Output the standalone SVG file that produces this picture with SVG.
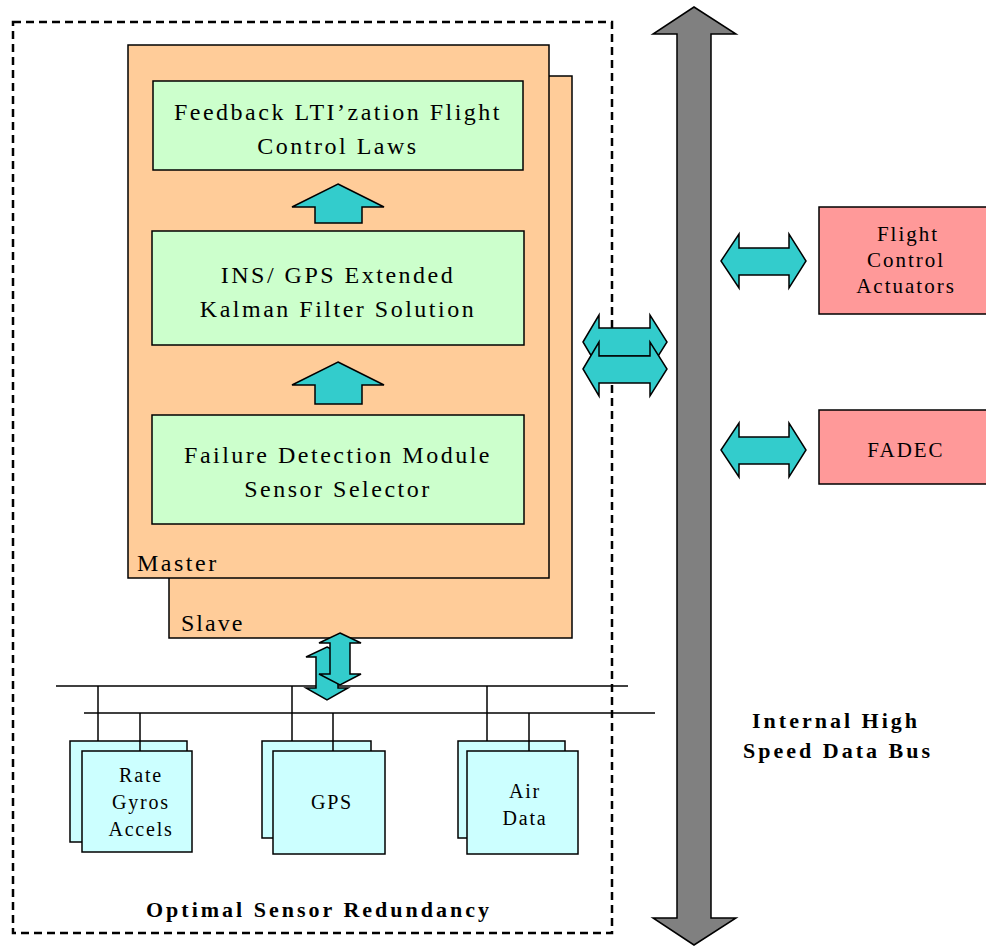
<svg xmlns="http://www.w3.org/2000/svg" width="986" height="948" viewBox="0 0 986 948">
<style>
.ser{font-family:"Liberation Serif","Times New Roman",serif;fill:#000}
.g{font-size:24px;letter-spacing:2.5px;text-anchor:middle}
.s{font-size:21px;letter-spacing:2px;text-anchor:middle}
.s2{font-size:20px;letter-spacing:1.8px;text-anchor:middle}
.b{font-size:22px;font-weight:bold;letter-spacing:3px;text-anchor:middle}
.box{stroke:#000;stroke-width:1.5}
.peach{fill:#FFCC99}
.green{fill:#CCFFCC}
.pink{fill:#FF9999}
.lc{fill:#CCFFFF}
.ar{fill:#33CCCC;stroke:#000;stroke-width:1.5;stroke-linejoin:miter}
.bus{stroke:#000;stroke-width:1.5}
</style>
<rect width="986" height="948" fill="#fff"/>
<g id="redundancy-boundary">
<rect x="13" y="22" width="599" height="911" fill="none" stroke="#000" stroke-width="2.5" stroke-dasharray="8,5"/>
</g>
<g id="slave">
<rect class="box peach" x="169" y="76" width="403" height="562"/>
<text class="ser" x="181" y="631" font-size="24" letter-spacing="2">Slave</text>
</g>
<g id="master">
<rect class="box peach" x="128" y="45" width="421" height="533"/>
<text class="ser" x="137" y="571" font-size="24" letter-spacing="2.5">Master</text>
</g>
<g id="control-laws">
<rect class="box green" x="153" y="81" width="370" height="89"/>
<text class="ser g" x="338" y="120">Feedback LTI’zation Flight</text>
<text class="ser g" x="338" y="154">Control Laws</text>
</g>
<g id="kalman">
<rect class="box green" x="152" y="231" width="372" height="114"/>
<text class="ser g" x="338" y="283">INS/ GPS Extended</text>
<text class="ser g" x="338" y="317">Kalman Filter Solution</text>
</g>
<g id="failure-detection">
<rect class="box green" x="152" y="415" width="372" height="109"/>
<text class="ser g" x="338" y="463">Failure Detection Module</text>
<text class="ser g" x="338" y="497">Sensor Selector</text>
</g>
<g id="data-bus">
<polygon points="694,7 736,34 711,34 711,918 736,918 694,945 653,918 677,918 677,34 653,34" fill="#808080" stroke="#000" stroke-width="1.5"/>
<text class="ser b" x="836" y="728">Internal High</text>
<text class="ser b" x="838" y="758">Speed Data Bus</text>
</g>
<g id="flight-control-actuators">
<rect class="box pink" x="819" y="207" width="180" height="107"/>
<text class="ser s" x="908" y="241">Flight</text>
<text class="ser s" x="906" y="267">Control</text>
<text class="ser s" x="906" y="293">Actuators</text>
</g>
<g id="fadec">
<rect class="box pink" x="819" y="410" width="180" height="74"/>
<text class="ser s" x="906" y="457">FADEC</text>
</g>
<g id="rate-gyros">
<rect class="box lc" x="70" y="741" width="117" height="101"/>
<rect class="box lc" x="82" y="751" width="110" height="101"/>
<text class="ser s2" x="141" y="782">Rate</text>
<text class="ser s2" x="141" y="809">Gyros</text>
<text class="ser s2" x="141" y="836">Accels</text>
</g>
<g id="gps">
<rect class="box lc" x="262" y="741" width="109" height="97"/>
<rect class="box lc" x="273" y="751" width="112" height="103"/>
<text class="ser s2" x="332" y="809">GPS</text>
</g>
<g id="air-data">
<rect class="box lc" x="458" y="741" width="107" height="97"/>
<rect class="box lc" x="467" y="751" width="111" height="103"/>
<text class="ser s2" x="525" y="798">Air</text>
<text class="ser s2" x="525" y="825">Data</text>
</g>
<g id="connectors">
<line class="bus" x1="56" y1="686" x2="628" y2="686"/>
<line class="bus" x1="84" y1="713" x2="655" y2="713"/>
<line class="bus" x1="98" y1="686" x2="98" y2="741"/>
<line class="bus" x1="140" y1="713" x2="140" y2="751"/>
<line class="bus" x1="292" y1="686" x2="292" y2="741"/>
<line class="bus" x1="333" y1="713" x2="333" y2="751"/>
<line class="bus" x1="487" y1="686" x2="487" y2="741"/>
<line class="bus" x1="529" y1="713" x2="529" y2="751"/>
<polygon class="ar" points="338,184 384,207 362,207 362,223 315,223 315,207 292,207"/>
<polygon class="ar" points="338,362 384,385 362,385 362,404 315,404 315,385 292,385"/>
<polygon class="ar" points="583,342 599,315 599,328 650,328 650,315 667,342 650,369 650,356 599,356 599,369"/>
<polygon class="ar" points="583,369 599,342 599,356 650,356 650,342 667,369 650,396 650,383 599,383 599,396"/>
<polygon class="ar" points="721,261 739,234 739,248 789,248 789,234 806,261 789,288 789,275 739,275 739,288"/>
<polygon class="ar" points="721,450 739,423 739,437 789,437 789,423 806,450 789,477 789,464 739,464 739,477"/>
<polygon class="ar" points="327,647 348,657 338,657 338,688 348,688 327,700 306,688 316,688 316,657 306,657"/>
<polygon class="ar" points="340,633 361,643 350,643 350,674 361,674 340,685 319,674 330,674 330,643 319,643"/>
</g>
<text class="ser b" x="319" y="917">Optimal Sensor Redundancy</text>
</svg>
